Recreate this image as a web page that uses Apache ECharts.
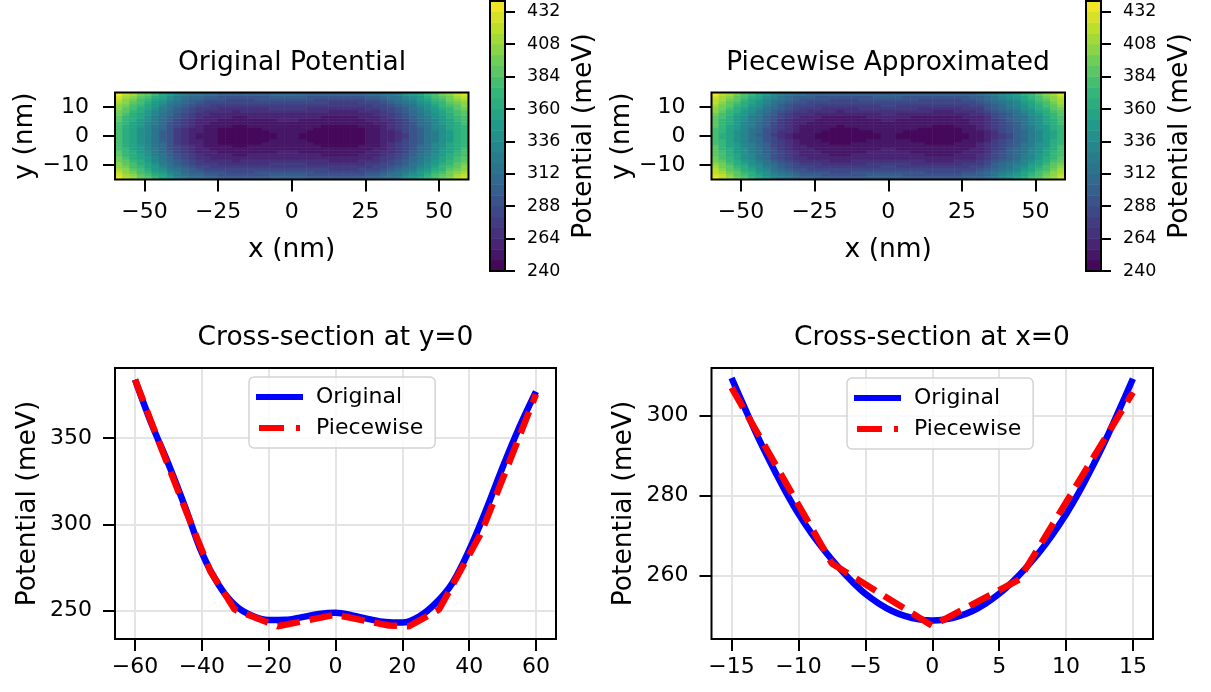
<!DOCTYPE html>
<html><head><meta charset="utf-8">
<script src="https://cdn.jsdelivr.net/npm/echarts@6/dist/echarts.min.js"></script>
<style>html,body{margin:0;padding:0;background:#fff}#c{width:1211px;height:692px}</style>
</head><body><div id="c"></div><script>
// ---------------- DATA ----------------
// Heatmap cell centres (nm)
const heatXCenters = [-58.75,-56.25,-53.75,-51.25,-48.75,-46.25,-43.75,-41.25,-38.75,-36.25,-33.75,-31.25,-28.75,-26.25,-23.75,-21.25,-18.75,-16.25,-13.75,-11.25,-8.75,-6.25,-3.75,-1.25,1.25,3.75,6.25,8.75,11.25,13.75,16.25,18.75,21.25,23.75,26.25,28.75,31.25,33.75,36.25,38.75,41.25,43.75,46.25,48.75,51.25,53.75,56.25,58.75];
const heatYCenters = [-14.5,-13.5,-12.5,-11.5,-10.5,-9.5,-8.5,-7.5,-6.5,-5.5,-4.5,-3.5,-2.5,-1.5,-0.5,0.5,1.5,2.5,3.5,4.5,5.5,6.5,7.5,8.5,9.5,10.5,11.5,12.5,13.5,14.5];
// Original potential: profile along x (at y=0) and rise along y (meV)
const origXProfile = [377.5,364.5,352.5,341,329,316,303,290,278,269,261.5,255.5,251,248.3,246,244.8,244.4,244.5,245,245.8,246.7,247.6,248.3,248.7,248.5,247.6,246.5,245.5,244.5,243.6,243.1,243,243.6,245.3,248,252,257,263,270.5,279.5,290,302,314,327,339,350.5,361.5,372];
const origYRise = [56.8,49.2,42.2,35.7,29.8,24.4,19.5,15.2,11.4,8.2,5.5,3.3,1.7,0.6,0.1,0.1,0.6,1.7,3.3,5.5,8.2,11.4,15.2,19.5,24.4,29.8,35.7,42.2,49.2,56.8];
// Piecewise approximated potential: profile along x and rise along y (meV)
const pieceXProfile = [378.2,365.3,352.4,339.8,327.5,315.2,303,291,279,269.2,261.5,253.8,249.5,247.6,245.7,243.8,242,241.3,242.3,243.2,244.2,245.2,246.1,247.1,247.1,246.1,245.1,244.2,243.2,242.2,241.3,241.1,240.9,242.8,245.5,248.2,251.5,260.3,269.1,277.9,286.7,295.7,307.9,320.1,332.3,344.6,357,369.3];
const pieceYRise = [56.7,50.8,45.0,39.1,33.2,27.3,21.5,15.6,13.5,11.4,9.4,7.3,5.2,3.1,1.0,0.9,2.7,4.5,6.2,8.0,9.8,11.6,17.1,22.6,28.1,33.6,39.1,44.6,50.1,55.6];
// Contour levels / colorbar ticks
const levels = [240,248,256,264,272,280,288,296,304,312,320,328,336,344,352,360,368,376,384,392,400,408,416,424,432,440];
const cbTicks = [240,264,288,312,336,360,384,408,432];
const heatXTicks = [-50,-25,0,25,50];
const heatYTicks = [-10,0,10];
// Cross-section at y=0
const secXPos = [-60,-55,-50,-45,-40,-35,-30,-25,-20,-15,-10,-5,0,5,10,15,20,25,30,35,40,45,50,55,60];
const secXOrig = [384,358,335,310,283.5,265,253,247,244.5,244.6,246.2,248,248.7,247.2,245,243.3,243,246.5,254.3,266,285,308,333,356.3,377];
const secXPiecePos = [-60,-52.5,-45,-37.5,-30.2,-17.3,0,16,22,31,43.6,52,60];
const secXPiece = [384,346,309,273,250.6,240.9,247.6,241.3,240.9,250.6,295,336,375.5];
const secXTicksX = [-60,-40,-20,0,20,40,60];
const secXTicksY = [250,300,350];
// Cross-section at x=0
const secYPos = [-15,-14,-13,-12,-11,-10,-9,-8,-7,-6,-5,-4,-3,-2,-1,0,1,2,3,4,5,6,7,8,9,10,11,12,13,14,15];
const secYOrig = [309.4,301.8,294.4,287.6,281.2,275.4,270.4,266,262,258.5,255.4,253,251.1,249.8,249,248.7,249,249.8,251.1,253,255.4,258.4,261.9,265.8,270.3,275.3,281,287.4,294.2,301.6,309.2];
const secYPiecePos = [-15,-7.5,0,6.5,15];
const secYPiece = [307,263,247.4,259,305.8];
const secYTicksX = [-15,-10,-5,0,5,10,15];
const secYTicksY = [260,280,300];

// ---------------- STYLE / BUILD ----------------
const FONT = 'DejaVu Sans';
const VIR = ['#440154','#482878','#3e4989','#31688e','#26828e','#1f9e89','#35b779','#6ece58','#b5de2b','#fde725'];
function hex(c){return [parseInt(c.slice(1,3),16),parseInt(c.slice(3,5),16),parseInt(c.slice(5,7),16)];}
function viridis(t){
  const p = t*(VIR.length-1); const i = Math.min(Math.floor(p), VIR.length-2); const f = p-i;
  const a = hex(VIR[i]), b = hex(VIR[i+1]);
  return 'rgb(' + a.map((v,k)=>Math.round(v+(b[k]-v)*f)).join(',') + ')';
}
const nb = levels.length-1;
const pieces = [];
for (let i=0;i<nb;i++){
  const pc = {color: viridis((i+0.5)/nb)};
  if (i>0) pc.gte = levels[i];
  if (i<nb-1) pc.lt = levels[i+1];
  pieces.push(pc);
}
function grid2d(xp, yr){
  const out=[];
  for (let i=0;i<xp.length;i++) for (let j=0;j<yr.length;j++) out.push([i,j,xp[i]+yr[j]]);
  return out;
}
const cbCats = [], cbData = [];
for (let i=0;i<nb;i++){ cbCats.push(String(i)); cbData.push([0,i,(levels[i]+levels[i+1])/2]); }
const fmt = v => String(v).replace('-', '\u2212');
const pairs = (xs, ys) => xs.map((x,i)=>[x, ys[i]]);

function valAxis(o){
  return {
    type:'value', gridIndex:o.grid, position:o.pos, min:o.min, max:o.max, z:0,
    axisLine:{show:false, onZero:false},
    splitLine: o.split ? {show:true, lineStyle:{color:'#e4e4e4', width:2}} : {show:false},
    axisTick:{show:true, length:o.tickLen||12, customValues:o.ticks, lineStyle:{color:'#000', width:2}},
    axisLabel:{show:true, customValues:o.ticks, margin:o.margin, color:'#000', fontFamily:FONT, fontSize:o.fs||22, formatter:fmt},
    name:o.name||'', nameLocation:'middle', nameGap:o.nameGap||0,
    nameTextStyle:{color:'#000', fontFamily:FONT, fontSize:26.5}
  };
}
function catAxis(grid, data, pos){
  return {type:'category', gridIndex:grid, data:data, position:pos, show:false, boundaryGap:true, axisLine:{onZero:false}};
}
const frame = {show:true, borderColor:'#000', borderWidth:2, backgroundColor:'transparent', z:10};
const TITLE = {fontFamily:FONT, fontSize:26.5, fill:'#000', textAlign:'center', textVerticalAlign:'middle'};
function legendAt(left, top){
  return {left:left, top:top, orient:'vertical', itemWidth:47, itemHeight:6, itemGap:9, padding:[9,12,9,7], z:20,
    data:[
      {name:'Original', icon:'rect', itemStyle:{color:'#0000ff'}},
      {name:'Piecewise', icon:'path://M0,0H25V6H0Z M37,0H41V6H37Z', itemStyle:{color:'#ff0000'}}
    ],
    textStyle:{fontFamily:FONT, fontSize:22, color:'#000', padding:[0,0,0,8], lineHeight:21},
    borderColor:'#d3d3d3', borderWidth:1.5, borderRadius:5, backgroundColor:'rgba(255,255,255,0.8)'};
}

const option = {
  animation:false,
  textStyle:{fontFamily:FONT},
  grid:[
    Object.assign({left:115, top:92.5, width:353.5, height:87}, frame),
    Object.assign({left:490, top:1, width:15, height:270}, frame),
    Object.assign({left:711.5, top:92.5, width:353.5, height:87}, frame),
    Object.assign({left:1086, top:1, width:15, height:270}, frame),
    Object.assign({left:115, top:368, width:441, height:271}, frame),
    Object.assign({left:711.5, top:368, width:441.5, height:271}, frame)
  ],
  xAxis:[
    catAxis(0, heatXCenters, 'top'),
    valAxis({grid:0, pos:'bottom', min:-60, max:60, ticks:heatXTicks, margin:22, name:'x (nm)', nameGap:57}),
    catAxis(2, heatXCenters, 'top'),
    valAxis({grid:2, pos:'bottom', min:-60, max:60, ticks:heatXTicks, margin:22, name:'x (nm)', nameGap:57}),
    catAxis(1, ['cb'], 'bottom'),
    catAxis(3, ['cb'], 'bottom'),
    valAxis({grid:4, pos:'bottom', min:-66, max:66, ticks:secXTicksX, margin:17, split:true}),
    valAxis({grid:5, pos:'bottom', min:-16.5, max:16.5, ticks:secYTicksX, margin:17, split:true})
  ],
  yAxis:[
    catAxis(0, heatYCenters, 'right'),
    valAxis({grid:0, pos:'left', min:-15, max:15, ticks:heatYTicks, margin:26, name:'y (nm)', nameGap:76}),
    catAxis(2, heatYCenters, 'right'),
    valAxis({grid:2, pos:'left', min:-15, max:15, ticks:heatYTicks, margin:26, name:'y (nm)', nameGap:76}),
    catAxis(1, cbCats, 'left'),
    valAxis({grid:1, pos:'right', min:240, max:440, ticks:cbTicks, margin:22, fs:17.5, tickLen:10, name:'Potential (meV)', nameGap:66}),
    catAxis(3, cbCats, 'left'),
    valAxis({grid:3, pos:'right', min:240, max:440, ticks:cbTicks, margin:22, fs:17.5, tickLen:10, name:'Potential (meV)', nameGap:66}),
    valAxis({grid:4, pos:'left', min:233.5, max:390.7, ticks:secXTicksY, margin:23, split:true, name:'Potential (meV)', nameGap:73}),
    valAxis({grid:5, pos:'left', min:244.1, max:311.9, ticks:secYTicksY, margin:23, split:true, name:'Potential (meV)', nameGap:74})
  ],
  visualMap:[{type:'piecewise', show:false, seriesIndex:[0,1,2,3], dimension:2, pieces:pieces}],
  legend:[legendAt(249, 377), legendAt(847, 378)],
  graphic:[
    {type:'text', x:292, y:63, style:Object.assign({text:'Original Potential'}, TITLE)},
    {type:'text', x:888, y:63, style:Object.assign({text:'Piecewise Approximated'}, TITLE)},
    {type:'text', x:335.5, y:338, style:Object.assign({text:'Cross-section at y=0'}, TITLE)},
    {type:'text', x:932, y:338, style:Object.assign({text:'Cross-section at x=0'}, TITLE)}
  ],
  series:[
    {type:'heatmap', xAxisIndex:0, yAxisIndex:0, data:grid2d(origXProfile, origYRise), progressive:0, emphasis:{disabled:true}},
    {type:'heatmap', xAxisIndex:2, yAxisIndex:2, data:grid2d(pieceXProfile, pieceYRise), progressive:0, emphasis:{disabled:true}},
    {type:'heatmap', xAxisIndex:4, yAxisIndex:4, data:cbData, progressive:0, emphasis:{disabled:true}},
    {type:'heatmap', xAxisIndex:5, yAxisIndex:6, data:cbData, progressive:0, emphasis:{disabled:true}},
    {type:'line', name:'Original', xAxisIndex:6, yAxisIndex:8, data:pairs(secXPos, secXOrig), smooth:0.35, symbol:'none', showSymbol:false, z:3,
     lineStyle:{color:'#0000ff', width:6.5}, itemStyle:{color:'#0000ff'}},
    {type:'line', name:'Piecewise', xAxisIndex:6, yAxisIndex:8, data:pairs(secXPiecePos, secXPiece), symbol:'none', showSymbol:false, z:4,
     lineStyle:{color:'#ff0000', width:6.5, type:[23,10]}, itemStyle:{color:'#ff0000'}},
    {type:'line', name:'Original', xAxisIndex:7, yAxisIndex:9, data:pairs(secYPos, secYOrig), smooth:0.35, symbol:'none', showSymbol:false, z:3,
     lineStyle:{color:'#0000ff', width:6.5}, itemStyle:{color:'#0000ff'}},
    {type:'line', name:'Piecewise', xAxisIndex:7, yAxisIndex:9, data:pairs(secYPiecePos, secYPiece), symbol:'none', showSymbol:false, z:4,
     lineStyle:{color:'#ff0000', width:6.5, type:[23,10]}, itemStyle:{color:'#ff0000'}}
  ]
};
const chart = echarts.init(document.getElementById('c'), null, {renderer:'canvas'});
chart.setOption(option);
</script></body></html>
